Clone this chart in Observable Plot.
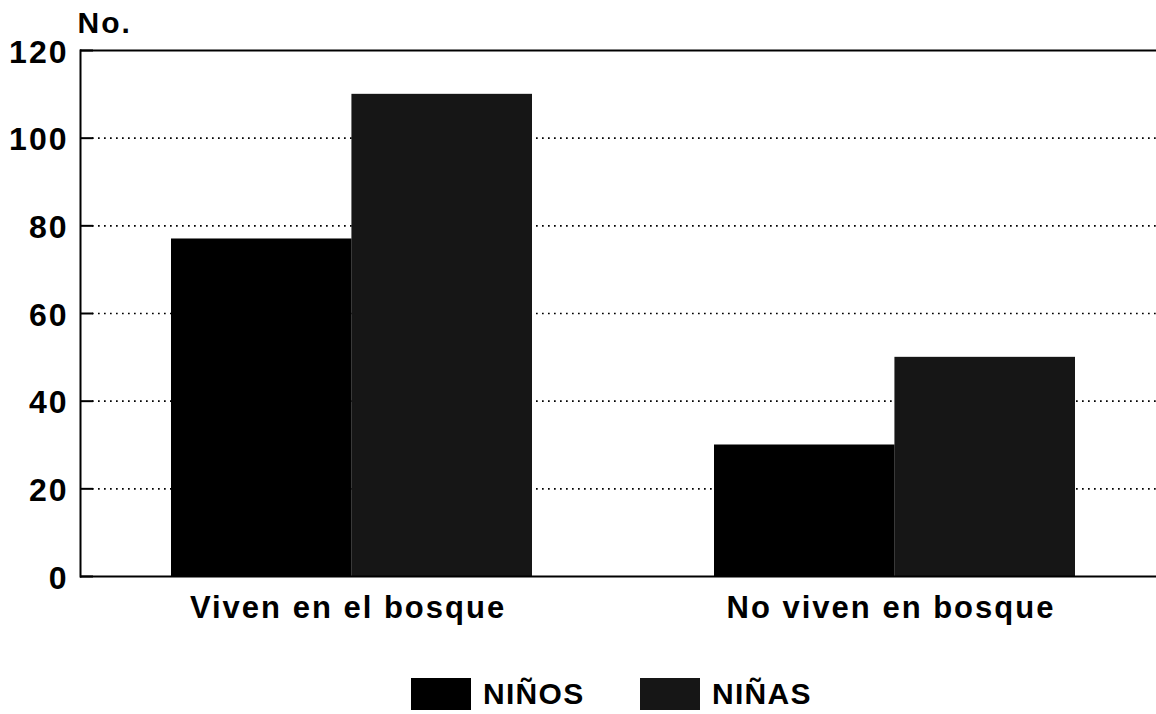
<!DOCTYPE html>
<html><head><meta charset="utf-8">
<script src="https://cdn.jsdelivr.net/npm/d3@7"></script>
<script src="https://cdn.jsdelivr.net/npm/@observablehq/plot@0.6"></script>
<style>
html,body{margin:0;padding:0;background:#fff;overflow:hidden;}
body{font-family:"Liberation Sans",Arial,sans-serif;font-weight:bold;color:#000;}
#chart svg text{letter-spacing:2px;}
#chart svg text.nolabel{letter-spacing:1px;}
.legend{position:relative;height:64px;}
.item{position:absolute;top:28px;display:flex;align-items:flex-end;}
.sw{width:60px;height:32px;}
.lab{font-size:30px;letter-spacing:1.3px;margin-left:12px;line-height:26px;position:relative;top:-3px;}
</style></head>
<body><div id="chart"></div><div class="legend" id="legend"></div>
<script>
const groups = ["Viven en el bosque", "No viven en bosque"];
const sexes = ["NIÑOS", "NIÑAS"];
const ninos = [77, 30];
const ninas = [110, 50];
const yTicks = [0, 20, 40, 60, 80, 100, 120];
const colors = ["#000000", "#161616"];

const data = groups.flatMap((g, i) => [
  {group: g, sex: sexes[0], value: ninos[i]},
  {group: g, sex: sexes[1], value: ninas[i]}
]);

const W = 1156, H = 650, ML = 80, MR = 0, MT = 50, MB = 74;
const PI = 0.336, PO = 0.158, ALIGN = 0.525;
const step = (W - ML - MR) / (groups.length - PI + 2 * PO);
const half = step * (1 - PI) / 2;

const plot = Plot.plot({
  width: W, height: H,
  marginLeft: ML, marginRight: MR, marginTop: MT, marginBottom: MB,
  style: {fontFamily: "Liberation Sans, Arial, sans-serif", fontWeight: "bold", color: "#000", background: "#fff"},
  x: {domain: groups, paddingInner: PI, paddingOuter: PO, align: ALIGN, label: null},
  y: {domain: [0, 120], label: null},
  color: {domain: sexes, range: colors},
  marks: [
    Plot.ruleY(yTicks.filter(v => v > 0 && v < 120), {stroke: "#000", strokeWidth: 1.7, strokeDasharray: "1.7,4.3", insetLeft: 12}),
    Plot.ruleY(yTicks, {stroke: "#000", strokeWidth: 2, insetRight: W - ML - MR - 13}),
    Plot.barY(data.filter(d => d.sex === sexes[0]), {x: "group", y: "value", fill: "sex", insetRight: half}),
    Plot.barY(data.filter(d => d.sex === sexes[1]), {x: "group", y: "value", fill: "sex", insetLeft: half}),
    Plot.ruleY([0, 120], {stroke: "#000", strokeWidth: 2}),
    Plot.frame({anchor: "left", stroke: "#000", strokeWidth: 2}),
    Plot.axisY(yTicks, {tickSize: 0, tickPadding: 12, fontSize: 32, label: null, dy: 2}),
    Plot.axisX({tickSize: 0, tickPadding: 19, fontSize: 31, label: null, dx: -4}),
    Plot.text(["No."], {frameAnchor: "top-left", textAnchor: "start", lineAnchor: "middle", dx: -3, dy: -27, fontSize: 30, className: "nolabel"})
  ]
});
document.getElementById("chart").appendChild(plot);

const lg = document.getElementById("legend");
const lefts = [411, 640];
sexes.forEach((s, i) => {
  const it = document.createElement("div");
  it.className = "item";
  it.style.left = lefts[i] + "px";
  const sw = document.createElement("div");
  sw.className = "sw";
  sw.style.background = colors[i];
  const lb = document.createElement("span");
  lb.className = "lab";
  lb.textContent = s;
  it.appendChild(sw); it.appendChild(lb);
  lg.appendChild(it);
});
</script></body></html>
